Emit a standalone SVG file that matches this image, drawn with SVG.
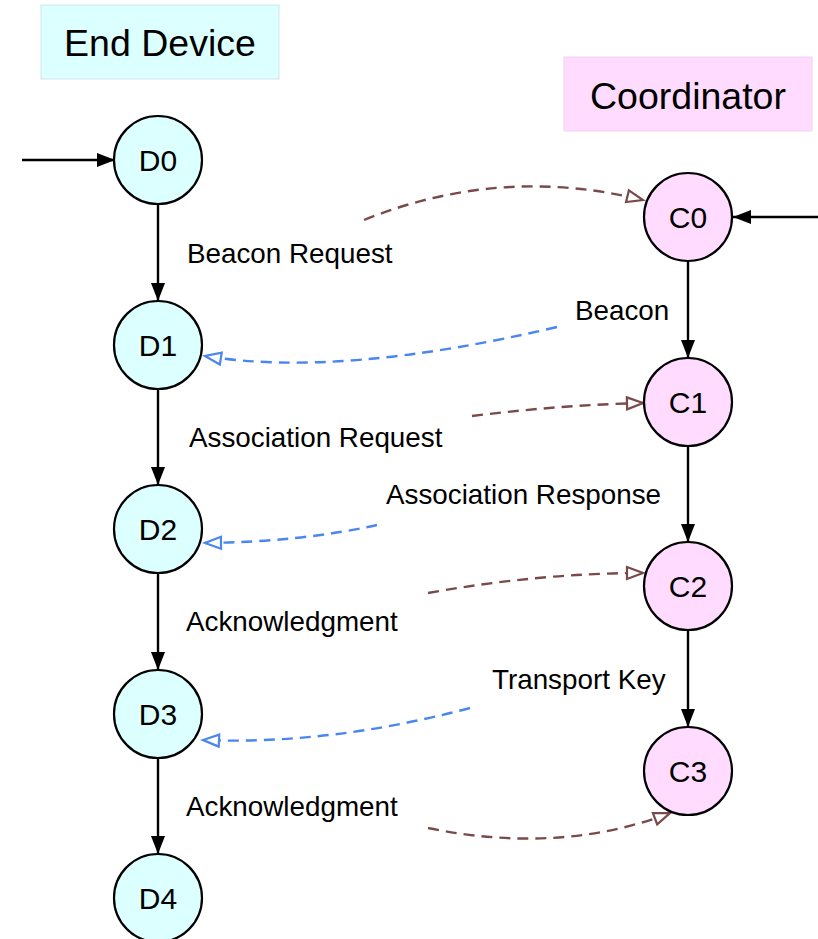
<svg xmlns="http://www.w3.org/2000/svg" width="818" height="939" viewBox="0 0 818 939">
<style>
.title{font-family:"Liberation Sans",Arial,sans-serif;font-size:37.5px;fill:#000;text-anchor:middle}
.nl{font-family:"Liberation Sans",Arial,sans-serif;font-size:30px;fill:#000;text-anchor:middle}
.lbl{font-family:"Liberation Sans",Arial,sans-serif;font-size:27.8px;fill:#000}
.dn{fill:#dcffff;stroke:#000;stroke-width:2.2}
.cn{fill:#ffdcff;stroke:#000;stroke-width:2.2}
.solid{stroke:#000;stroke-width:2.4;fill:none;marker-end:url(#solidArrow)}
.req{stroke:#7a4a4a;stroke-width:2.4;fill:none;stroke-dasharray:11 7;marker-end:url(#brownArrow)}
.rsp{stroke:#4a86f0;stroke-width:2.4;fill:none;stroke-dasharray:11 7;marker-end:url(#blueArrow)}
</style>
<defs>
<marker id="solidArrow" markerUnits="userSpaceOnUse" markerWidth="20" markerHeight="16" refX="18" refY="7" orient="auto" viewBox="0 0 20 16" overflow="visible">
<path d="M0,0 L18,7 L0,14 z" fill="#000"/>
</marker>
<marker id="brownArrow" markerUnits="userSpaceOnUse" markerWidth="20" markerHeight="16" refX="17" refY="7" orient="auto" viewBox="0 0 20 16" overflow="visible">
<path d="M1,1 L17,7 L1,13 z" fill="#fff" stroke="#7a4a4a" stroke-width="2.2"/>
</marker>
<marker id="blueArrow" markerUnits="userSpaceOnUse" markerWidth="20" markerHeight="16" refX="17" refY="7" orient="auto" viewBox="0 0 20 16" overflow="visible">
<path d="M1,1 L17,7 L1,13 z" fill="#fff" stroke="#4a86f0" stroke-width="2.2"/>
</marker>
</defs>
<rect width="818" height="939" fill="#fff"/>
<g id="title-end-device">
<rect x="41" y="5" width="238" height="74" fill="#dcffff" stroke="#cde6ea" stroke-width="1"/>
<text class="title" x="160" y="56">End Device</text>
</g>
<g id="title-coordinator">
<rect x="564" y="57" width="248" height="74" fill="#ffdcff" stroke="#f0d0f0" stroke-width="1"/>
<text class="title" x="688" y="109">Coordinator</text>
</g>
<g id="connectors">
<path class="solid" d="M22,160 L115,160"/>
<path class="solid" d="M818,217 L733,217"/>
<path class="solid" d="M158,204 L158,301"/>
<path class="solid" d="M158,389 L158,485"/>
<path class="solid" d="M158,573 L158,670"/>
<path class="solid" d="M158,758 L158,854"/>
<path class="solid" d="M688,261 L688,358"/>
<path class="solid" d="M688,446 L688,542"/>
<path class="solid" d="M688,630 L688,727"/>
<path class="req" d="M364,220 Q500,165 643,200"/>
<path class="rsp" d="M557,327 Q340,378 205,356"/>
<path class="req" d="M472,416 Q560,405 643,403"/>
<path class="rsp" d="M377,525 Q300,542 205,543"/>
<path class="req" d="M428,593 Q540,573 643,573"/>
<path class="rsp" d="M470,708 Q330,745 203,740"/>
<path class="req" d="M428,828 Q560,855 670,813"/>
<text class="lbl" x="187" y="263">Beacon Request</text>
<text class="lbl" x="575" y="320">Beacon</text>
<text class="lbl" x="189" y="447">Association Request</text>
<text class="lbl" x="386" y="504">Association Response</text>
<text class="lbl" x="186" y="631">Acknowledgment</text>
<text class="lbl" x="492" y="689">Transport Key</text>
<text class="lbl" x="186" y="816">Acknowledgment</text>
</g>
<g id="D0"><circle class="dn" cx="158" cy="160" r="44"/><text class="nl" x="158" y="171">D0</text></g>
<g id="D1"><circle class="dn" cx="158" cy="345" r="44"/><text class="nl" x="158" y="356">D1</text></g>
<g id="D2"><circle class="dn" cx="158" cy="529" r="44"/><text class="nl" x="158" y="540">D2</text></g>
<g id="D3"><circle class="dn" cx="158" cy="714" r="44"/><text class="nl" x="158" y="725">D3</text></g>
<g id="D4"><circle class="dn" cx="158" cy="898" r="44"/><text class="nl" x="158" y="909">D4</text></g>
<g id="C0"><circle class="cn" cx="688" cy="217" r="44"/><text class="nl" x="688" y="228">C0</text></g>
<g id="C1"><circle class="cn" cx="688" cy="402" r="44"/><text class="nl" x="688" y="413">C1</text></g>
<g id="C2"><circle class="cn" cx="688" cy="586" r="44"/><text class="nl" x="688" y="597">C2</text></g>
<g id="C3"><circle class="cn" cx="688" cy="771" r="44"/><text class="nl" x="688" y="782">C3</text></g>
</svg>
